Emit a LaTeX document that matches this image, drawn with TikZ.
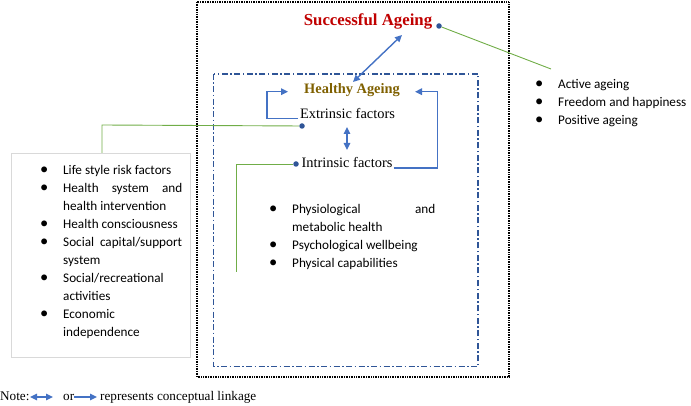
\documentclass[tikz,border=0pt]{standalone}
\usepackage{fontspec}
\setmainfont{Liberation Serif}
\newfontfamily\calfont{Carlito}
\usetikzlibrary{arrows.meta}
\definecolor{sucred}{HTML}{C00000}
\definecolor{healthgold}{HTML}{7F6000}
\definecolor{arrowblue}{HTML}{4472C4}
\definecolor{dotblue}{HTML}{2F5597}
\definecolor{linkgreen}{HTML}{70AD47}
\definecolor{innerblue}{HTML}{2F5597}
\definecolor{boxgray}{HTML}{D9D9D9}
\newcommand\itm{\par\noindent\hangindent=22pt\hangafter=1\makebox[22pt][l]{\makebox[6pt][c]{\scalebox{1.25}{\textbullet}}}\ignorespaces}
\newcommand\listfont{\calfont\fontsize{13.2}{18}\selectfont\tolerance=10000\hyphenpenalty=10000\parindent=0pt\parskip=0pt}
\begin{document}
\begin{tikzpicture}[x=1pt,y=-1pt,
  txt/.style={inner sep=0pt, font=\fontsize{14.4}{16}\selectfont},
  notetxt/.style={inner sep=0pt, font=\fontsize{13.2}{15}\selectfont},
  listnode/.style={inner sep=0pt},
  dot/.style={circle, fill=dotblue, inner sep=0pt, minimum size=5.5pt},
  gline/.style={draw=linkgreen, line width=0.9pt},
  arr/.style={draw=arrowblue, line width=1.4pt, -{Triangle[length=7pt,width=6.5pt]}},
  darr/.style={draw=arrowblue, line width=1.4pt, {Triangle[length=7pt,width=6.5pt]}-{Triangle[length=7pt,width=6.5pt]}},
  outerbox/.style={draw=black, line width=1.5pt, dash pattern=on 1pt off 0.7pt},
  innerbox/.style={draw=innerblue, line width=1.2pt, dash pattern=on 6pt off 2.5pt on 1.5pt off 2.5pt}]
\useasboundingbox (0,0) rectangle (691,406);
% boxes
\draw[outerbox] (197,2) rectangle (509,377);
\draw[innerbox] (213.5,74) rectangle (478,366.5);
% titles
\node[txt, font=\bfseries\fontsize{16.8}{18}\selectfont, text=sucred, anchor=base] (suc) at (368,25.5) {Successful Ageing};
\node[txt, font=\bfseries\fontsize{14.4}{16}\selectfont, text=healthgold, anchor=base] (hea) at (352,94) {Healthy Ageing};
\node[txt, anchor=base] (ext) at (347.5,118.5) {Extrinsic factors};
\node[txt, anchor=base] (int) at (347,168) {Intrinsic factors};
% dots
\node[dot] (sdot) at (439,26) {};
\node[dot] (edot) at (302,126) {};
\node[dot] (idot) at (296,164) {};
% left box
\node[draw=boxgray, line width=1.2pt, inner sep=0pt, minimum width=179pt, minimum height=204pt, anchor=north west] (lbox) at (11,153) {};
\node[listnode, anchor=base west] (llist) at (41,175) {\begin{minipage}[t]{141pt}\listfont
\itm Life style risk factors
\itm Health system and\linebreak health intervention
\itm Health consciousness
\itm Social capital/support\linebreak system
\itm Social/recreational\linebreak activities
\itm Economic\linebreak independence
\end{minipage}};
\node[listnode, anchor=base west] (mlist) at (270,214) {\begin{minipage}[t]{165pt}\listfont
\itm Physiological and\linebreak metabolic health
\itm Psychological wellbeing
\itm Physical capabilities
\end{minipage}};
\node[listnode, anchor=base west] (rlist) at (536,88.5) {\begin{minipage}[t]{155pt}\listfont
\itm Active ageing
\itm Freedom and happiness
\itm Positive ageing
\end{minipage}};
% green links
\coordinate (sgreen) at (551,69);
\coordinate (egreen) at (102,125);
\coordinate (igreen) at (236,164);
\coordinate (iend) at (236,272);
\draw[gline] (sdot) -- (sgreen);
\draw[gline] (edot) -- (egreen) -- (lbox.north -| egreen);
\draw[gline] (idot) -- (igreen) -- (iend);
% blue links
\coordinate (sa1) at (402,35);
\coordinate (sa2) at (353,82);
\draw[darr] (sa1) -- (sa2);
\draw[arr] ([xshift=-2pt]ext.base west) -- ++(-31,0) |- ([xshift=-16pt]hea.mid west);
\draw[arr] ([xshift=1pt]int.base east) -- ++(44,0) |- ([xshift=15pt]hea.mid east);
\coordinate (v1) at (347,127);
\coordinate (v2) at (347,150);
\draw[darr] (v1) -- (v2);
% note
\node[notetxt, anchor=base west] (note) at (0,400.7) {Note:};
\coordinate (n1) at (30,397);
\coordinate (n2) at (53,397);
\node[notetxt, anchor=base west] (or) at (63,400.7) {or};
\coordinate (n3) at (74,397);
\coordinate (n4) at (97,397);
\node[notetxt, anchor=base west] (rep) at (100,400.7) {represents conceptual linkage};
\draw[darr] (n1) -- (n2);
\draw[arr] (n3) -- (n4);
\end{tikzpicture}
\end{document}
